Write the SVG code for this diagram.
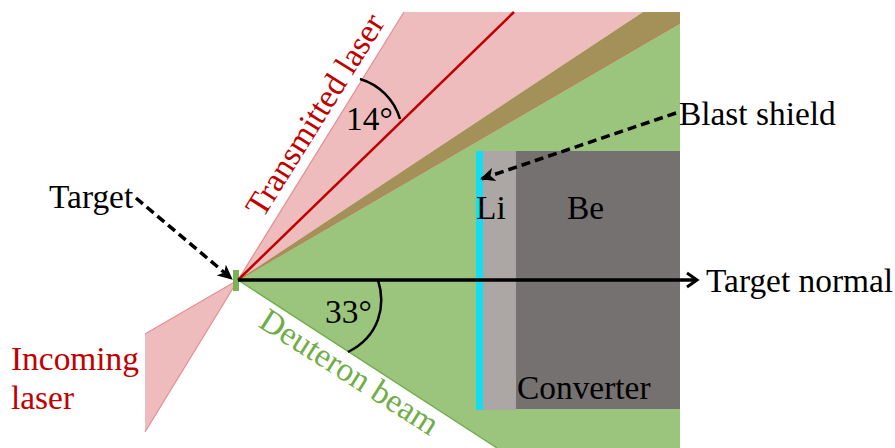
<svg xmlns="http://www.w3.org/2000/svg" width="895" height="448" viewBox="0 0 895 448">
<style>
text{font-family:"Liberation Serif","Times New Roman",serif;font-size:33.400px;fill:#000}
.red{fill:#c00000}.grn{fill:#70ad47}
.dash{fill:none;stroke:#000;stroke-width:3.500;stroke-dasharray:9 5}
.arc{fill:none;stroke:#000;stroke-width:2.500}
.edge{fill:none;stroke:#e39093;stroke-width:1.300}
</style>
<defs>
<marker id="ah" markerUnits="userSpaceOnUse" markerWidth="16" markerHeight="14" refX="14" refY="7" orient="auto"><path d="M0 0L15 7L0 14L4 7Z" fill="#000"/></marker>
<marker id="op" markerUnits="userSpaceOnUse" markerWidth="16" markerHeight="18" refX="13" refY="9" orient="auto"><path d="M3 2L13 9L3 16" fill="none" stroke="#000" stroke-width="3"/></marker>
</defs>
<g id="deuteron-beam"><polygon points="238,280 680,23 680,448 497,448" fill="#9bc57c"/><path d="M238 280L497 448" fill="none" stroke="#70ad47" stroke-width="1.300"/></g>
<g id="laser-transmitted"><polygon points="238,280 404,12 643,12" fill="#efbcbe"/><path class="edge" d="M238 280L404 12"/></g>
<g id="overlap"><polygon points="238,280 643,12 680,12 680,23" fill="#a39159"/><path d="M238 280L680 23" fill="none" stroke="#c0765a" stroke-width="1"/></g>
<g id="laser-incoming"><polygon points="238,280 145,334 145,432" fill="#efbcbe"/><path class="edge" d="M145 334L238 280L145 432"/></g>
<g id="li"><rect x="476" y="151" width="41" height="259" fill="#aca6a5"/></g>
<g id="be"><rect x="516" y="151" width="164" height="258" fill="#757170"/></g>
<g id="blast-shield"><rect x="476" y="151" width="7" height="259" fill="#14dcf2"/></g>
<g id="target"><rect x="233" y="270" width="6" height="21" fill="#7ab356"/></g>
<g id="connectors">
<line x1="238" y1="280" x2="514" y2="12" stroke="#c00000" stroke-width="2.500"/>
<path class="arc" d="M360 79A59 59 0 0 1 400 119"/>
<path class="arc" d="M378 280C386 305 380 336 348 352"/>
<line x1="238" y1="280" x2="697" y2="280" stroke="#000" stroke-width="3.500" marker-end="url(#op)"/>
<line class="dash" x1="136" y1="198" x2="232" y2="279" marker-end="url(#ah)"/>
<line class="dash" x1="676" y1="113" x2="481" y2="179" marker-end="url(#ah)"/>
</g>
<g id="labels">
<text x="49" y="208">Target</text>
<text x="679" y="125">Blast shield</text>
<text x="706" y="292">Target normal</text>
<text x="476" y="219">Li</text>
<text x="567" y="219">Be</text>
<text x="517" y="399">Converter</text>
<text x="346" y="130">14°</text>
<text x="325" y="323">33°</text>
<text class="red" x="11" y="370">Incoming</text>
<text class="red" x="11" y="409">laser</text>
<text class="red" transform="translate(263,219) rotate(-58)">Transmitted laser</text>
<text class="grn" transform="translate(257,326) rotate(32.500)">Deuteron beam</text>
</g>
</svg>
